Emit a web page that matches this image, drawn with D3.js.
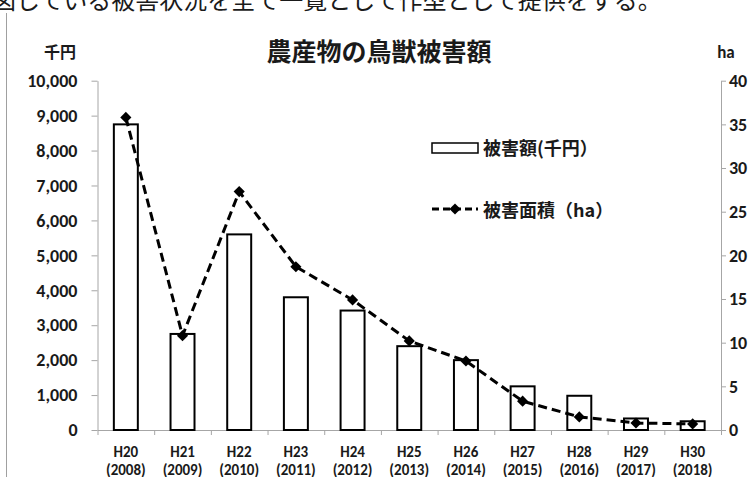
<!DOCTYPE html>
<html lang="ja">
<head>
<meta charset="utf-8">
<script src="https://cdn.jsdelivr.net/npm/d3@7"></script>
<style>
  html, body { margin: 0; padding: 0; background: #fff; }
  svg { display: block; }
  .num { font-family: Carlito, Lato, "Liberation Sans", sans-serif; font-weight: bold; fill: #1a1a1a; }
  .jp { font-family: "Noto Sans CJK JP", sans-serif; fill: #1a1a1a; }
</style>
</head>
<body>
<svg id="chart" width="751" height="477"></svg>
<script>
// Fiscal years (Heisei) and Western years
const categories = ["H20", "H21", "H22", "H23", "H24", "H25", "H26", "H27", "H28", "H29", "H30"];
const years = ["(2008)", "(2009)", "(2010)", "(2011)", "(2012)", "(2013)", "(2014)", "(2015)", "(2016)", "(2017)", "(2018)"];
// Damage amount (thousand yen) — bars, left axis
const damageAmount = [8750, 2750, 5600, 3800, 3420, 2400, 2000, 1250, 980, 330, 250];
// Damaged area (ha) — dashed line, right axis
const damageArea = [35.8, 10.8, 27.3, 18.7, 14.9, 10.2, 7.9, 3.3, 1.5, 0.8, 0.7];
// Axis ticks
const leftTicks = [0, 1000, 2000, 3000, 4000, 5000, 6000, 7000, 8000, 9000, 10000];
const rightTicks = [0, 5, 10, 15, 20, 25, 30, 35, 40];

const svg = d3.select("#chart");

const plotLeft = 97.5, plotRight = 721, plotTop = 80.7, plotBottom = 430;

// Line of body text running above the chart (only its lower half falls inside the frame)
svg.append("text")
  .attr("class", "jp")
  .attr("x", -8).attr("y", 9)
  .attr("font-size", 24)
  .text("図している被害状況を全て一覧として作型として提供をする。");

// Left margin rule
svg.append("line")
  .attr("x1", 6.5).attr("x2", 6.5).attr("y1", 13).attr("y2", 477)
  .attr("stroke", "#a0a0a0").attr("stroke-width", 1);

const x = d3.scaleBand()
  .domain(categories)
  .range([plotLeft, plotRight])
  .paddingInner(0.577)
  .paddingOuter(0.2885);

const yL = d3.scaleLinear().domain([0, 10000]).range([plotBottom, plotTop]);
const yR = d3.scaleLinear().domain([0, 40]).range([plotBottom, plotTop]);
const xb = d3.scaleLinear().domain([0, categories.length]).range([plotLeft, plotRight]);

// Left axis
const gL = svg.append("g")
  .attr("transform", `translate(${plotLeft},0)`)
  .call(d3.axisLeft(yL).tickValues(leftTicks).tickFormat(d3.format(",")).tickSize(6).tickSizeOuter(0).tickPadding(14));
gL.select(".domain").attr("stroke", "#a6a6a6");
gL.selectAll(".tick line").attr("stroke", "#a6a6a6");
gL.selectAll(".tick text").attr("class", "num").attr("font-size", 18).attr("font-family", null);

// Right axis
const gR = svg.append("g")
  .attr("transform", `translate(${plotRight},0)`)
  .call(d3.axisRight(yR).tickValues(rightTicks).tickSizeInner(5).tickSizeOuter(0).tickPadding(3));
gR.select(".domain").attr("stroke", "#a6a6a6");
gR.selectAll(".tick line").attr("stroke", "#a6a6a6");
gR.selectAll(".tick text").attr("class", "num").attr("font-size", 18).attr("font-family", null);

// Category axis: ticks sit between the categories
const gX = svg.append("g")
  .attr("transform", `translate(0,${plotBottom})`)
  .call(d3.axisBottom(xb).tickValues(d3.range(categories.length + 1)).tickFormat("").tickSize(5).tickSizeOuter(0));
gX.select(".domain").attr("stroke", "#a6a6a6");
gX.selectAll(".tick line").attr("stroke", "#a6a6a6");

const labels = svg.append("g");
labels.selectAll("text.cat").data(categories).join("text")
  .attr("class", "num cat")
  .attr("x", d => x(d) + x.bandwidth() / 2)
  .attr("y", 456.5)
  .attr("text-anchor", "middle")
  .attr("font-size", 15)
  .text(d => d);
labels.selectAll("text.yr").data(years).join("text")
  .attr("class", "num yr")
  .attr("x", (d, i) => x(categories[i]) + x.bandwidth() / 2)
  .attr("y", 475)
  .attr("text-anchor", "middle")
  .attr("font-size", 15)
  .text(d => d);

// Bars
svg.append("g").selectAll("rect").data(damageAmount).join("rect")
  .attr("x", (d, i) => x(categories[i]))
  .attr("y", d => yL(d))
  .attr("width", x.bandwidth())
  .attr("height", d => plotBottom - yL(d))
  .attr("fill", "#fff")
  .attr("stroke", "#000")
  .attr("stroke-width", 2);

// Dashed area line
const line = d3.line()
  .x((d, i) => x(categories[i]) + x.bandwidth() / 2)
  .y(d => yR(d));
svg.append("path")
  .datum(damageArea)
  .attr("d", line)
  .attr("fill", "none")
  .attr("stroke", "#000")
  .attr("stroke-width", 3)
  .attr("stroke-dasharray", "9,5");

const diamond = d3.symbol(d3.symbolSquare, 62);
svg.append("g").selectAll("path").data(damageArea).join("path")
  .attr("d", diamond)
  .attr("transform", (d, i) => `translate(${x(categories[i]) + x.bandwidth() / 2},${yR(d)}) rotate(45)`)
  .attr("fill", "#000");

// Axis unit labels
svg.append("text").attr("class", "jp").attr("x", 60).attr("y", 58)
  .attr("text-anchor", "middle").attr("font-size", 16).attr("font-weight", "bold").text("千円");
svg.append("text").attr("class", "num").attr("x", 726).attr("y", 58)
  .attr("text-anchor", "middle").attr("font-size", 17).text("ha");

// Title
svg.append("text").attr("class", "jp").attr("x", 379).attr("y", 61)
  .attr("text-anchor", "middle").attr("font-size", 25).attr("font-weight", "bold")
  .text("農産物の鳥獣被害額");

// Legend
const lg = svg.append("g");
lg.append("rect").attr("x", 432).attr("y", 143).attr("width", 46).attr("height", 10)
  .attr("fill", "#fff").attr("stroke", "#000").attr("stroke-width", 1.5);
lg.append("text").attr("class", "jp").attr("x", 483).attr("y", 154.5)
  .attr("font-size", 18).attr("font-weight", "bold").text("被害額(千円）");
lg.append("line").attr("x1", 432).attr("x2", 478).attr("y1", 209).attr("y2", 209)
  .attr("stroke", "#000").attr("stroke-width", 3).attr("stroke-dasharray", "7,4");
lg.append("path").attr("d", diamond).attr("transform", "translate(455,209) rotate(45)").attr("fill", "#000");
lg.append("text").attr("class", "jp").attr("x", 483).attr("y", 216.5)
  .attr("font-size", 18).attr("font-weight", "bold").text("被害面積（ha）");
</script>
</body>
</html>
